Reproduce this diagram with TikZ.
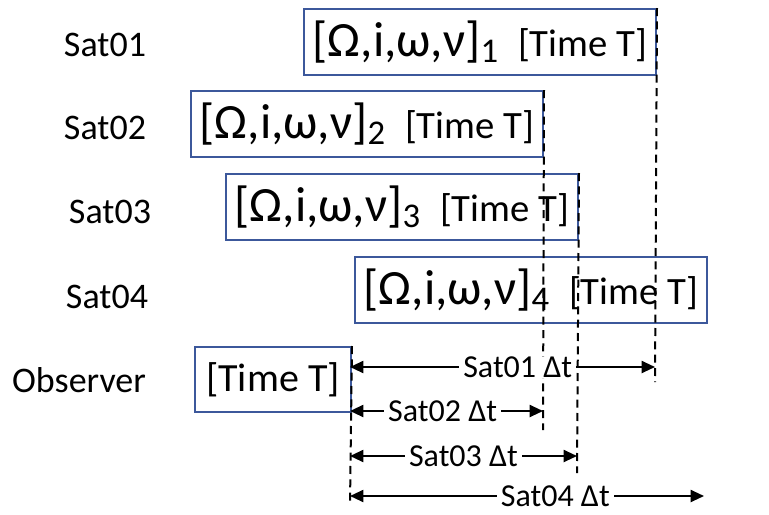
\documentclass[tikz,border=0pt]{standalone}
\usepackage{fontspec}
\setmainfont{Carlito}
\usetikzlibrary{arrows.meta}
\definecolor{boxblue}{RGB}{60,88,155}
\newcommand{\orb}[1]{{\fontsize{37}{42}\selectfont[Ω,i,ω,ν]}\raisebox{-0.42em}{\fontsize{26}{30}\selectfont #1}\hspace{15pt}{\fontsize{29}{33}\selectfont[Time T]}}
\begin{document}
\begin{tikzpicture}[x=0.75pt,y=-0.75pt,
  satbox/.style={draw=boxblue,line width=1.5pt,fill=none,minimum width=264pt,minimum height=49.5pt,inner sep=0pt,anchor=north west},
  obsbox/.style={draw=boxblue,line width=1.5pt,minimum width=117pt,minimum height=49pt,inner sep=0pt,anchor=north west,font=\fontsize{30}{34}\selectfont},
  satlabel/.style={font=\fontsize{27}{32}\selectfont},
  dline/.style={draw=black,line width=1.5pt,dash pattern=on 6pt off 4pt},
  dtarrow/.style={line width=1.5pt,{Triangle[length=10pt,width=9pt]}-{Triangle[length=10pt,width=9pt]}},
  dtlabel/.style={fill=white,inner xsep=3pt,inner ysep=0pt,font=\fontsize{24}{28}\selectfont}]
\useasboundingbox (0,0) rectangle (769,515);
% left labels
\node[satlabel] (l1) at (105,45) {Sat01};
\node[satlabel] (l2) at (105,128) {Sat02};
\node[satlabel] (l3) at (110,212) {Sat03};
\node[satlabel] (l4) at (107,297) {Sat04};
\node[satlabel] (l5) at (79,380) {Observer};
% boxes
\node[satbox] (b1) at (303,8) {\orb{1}};
\node[satbox] (b2) at (190,90) {\orb{2}};
\node[satbox] (b3) at (225,173) {\orb{3}};
\node[satbox] (b4) at (354,256) {\orb{4}};
\node[obsbox] (ob) at (194,346) {[Time T]};
% dashed lines
\coordinate (d1) at (655,382);
\coordinate (d2) at (543,430);
\coordinate (d3) at (577,473);
\coordinate (d0) at (350,505);
\draw[dline] (b1.north east) -- (d1);
\draw[dline] (b2.north east) -- (d2);
\draw[dline] (b3.north east) -- (d3);
\draw[dline] (ob.north east) -- (d0);
% arrows
\coordinate (a1s) at (350,367); \coordinate (a1e) at (655,367);
\coordinate (a2s) at (350,411); \coordinate (a2e) at (543,411);
\coordinate (a3s) at (350,456); \coordinate (a3e) at (577,456);
\coordinate (a4s) at (350,496); \coordinate (a4e) at (704,496);
\draw[dtarrow] (a1s) -- node[dtlabel,pos=0.55] (t1) {Sat01 Δt} (a1e);
\draw[dtarrow] (a2s) -- node[dtlabel,pos=0.48] (t2) {Sat02 Δt} (a2e);
\draw[dtarrow] (a3s) -- node[dtlabel,pos=0.5] (t3) {Sat03 Δt} (a3e);
\draw[dtarrow] (a4s) -- node[dtlabel,pos=0.58] (t4) {Sat04 Δt} (a4e);
\end{tikzpicture}
\end{document}
